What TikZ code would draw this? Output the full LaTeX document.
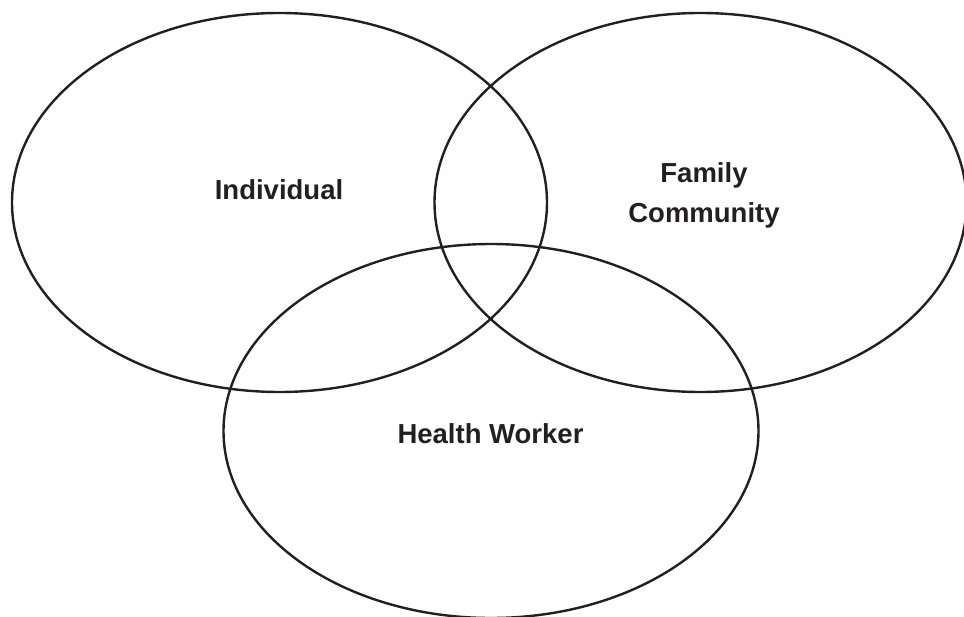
\documentclass[tikz,border=0pt]{standalone}
\usepackage{fontspec}
\setmainfont{Liberation Sans}
\usepackage{tikz}
\definecolor{ink}{HTML}{231F20}

\begin{document}
\begin{tikzpicture}[x=1pt,y=-1pt,
    ring/.style={draw=ink,line width=2.4pt},
    lbl/.style={text=ink,inner sep=0pt,align=center,
      font=\fontsize{27.5}{40}\selectfont\bfseries}]
  \useasboundingbox (0,0) rectangle (964,617);

  % Centros de los tres conjuntos
  \coordinate (cInd) at (279.5,202.5);
  \coordinate (cFam) at (700.5,202.5);
  \coordinate (cHw)  at (491,431);

  % Elipses
  \draw[ring] (cInd) ellipse [x radius=267.5pt, y radius=189.5pt];
  \draw[ring] (cFam) ellipse [x radius=266pt, y radius=189.5pt];
  \draw[ring] (cHw)  ellipse [x radius=267.5pt, y radius=187pt];

  % Etiquetas
  \node[lbl,anchor=base]  (ind) at (279,200) {Individual};
  \node[lbl,anchor=north] (fam) at (704,162) {Family\\Community};
  \node[lbl,anchor=base]  (hw)  at (490.5,443) {Health Worker};
\end{tikzpicture}
\end{document}
